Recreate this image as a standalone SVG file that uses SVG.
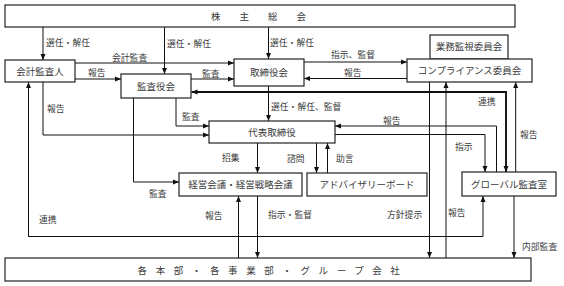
<svg xmlns="http://www.w3.org/2000/svg" width="564" height="286" viewBox="0 0 564 286">
<style>
.box{fill:#fff;stroke:#222;stroke-width:1.2}
.ln{fill:none;stroke:#111;stroke-width:1}
.thk{fill:none;stroke:#111;stroke-width:1.8}
.bt{font-family:"Noto Sans CJK JP","Noto Sans CJK SC",sans-serif;font-size:9.5px;fill:#3a3a3a;text-anchor:middle}
.lb{font-family:"Noto Sans CJK JP","Noto Sans CJK SC",sans-serif;font-size:8.8px;fill:#3a3a3a}
</style>
<defs>
<marker id="ah" markerWidth="6" markerHeight="6" refX="6" refY="3" orient="auto" markerUnits="userSpaceOnUse">
<path d="M0,0.5 L6,3 L0,5.5 z" fill="#111"/>
</marker>
</defs>
<g id="connectors">
<path class="ln" d="M43,27 V60" marker-end="url(#ah)"/>
<path class="ln" d="M164.5,27 V74" marker-end="url(#ah)"/>
<path class="ln" d="M268.5,27 V59" marker-end="url(#ah)"/>
<path class="ln" d="M75,63 H234" marker-end="url(#ah)"/>
<path class="ln" d="M75,79 H121" marker-end="url(#ah)"/>
<path class="ln" d="M191,79 H234" marker-end="url(#ah)"/>
<path class="ln" d="M304,62 H407" marker-end="url(#ah)"/>
<path class="ln" d="M407,78.5 H304" marker-end="url(#ah)"/>
<path class="thk" d="M506,172 V92 H191.5" marker-end="url(#ah)"/>
<path class="ln" d="M506,92 V172" marker-end="url(#ah)"/>
<path class="ln" d="M496.5,172 V126 H335" marker-end="url(#ah)"/>
<path class="ln" d="M335,134.5 H485 V172" marker-end="url(#ah)"/>
<path class="ln" d="M515.7,172 V82" marker-end="url(#ah)"/>
<path class="ln" d="M429.5,82 V258" marker-end="url(#ah)"/>
<path class="ln" d="M446,258 V82" marker-end="url(#ah)"/>
<path class="ln" d="M514,196 V258" marker-end="url(#ah)"/>
<path class="ln" d="M483,236.5 H28.5 V82" marker-end="url(#ah)"/>
<path class="ln" d="M28.5,236.5 H483 V196" marker-end="url(#ah)"/>
<path class="ln" d="M43,82 V135 H209" marker-end="url(#ah)"/>
<path class="ln" d="M176,98 V126 H209" marker-end="url(#ah)"/>
<path class="ln" d="M133.5,98 V182 H179" marker-end="url(#ah)"/>
<path class="ln" d="M268.5,86 V121" marker-end="url(#ah)"/>
<path class="ln" d="M257.5,143 V173" marker-end="url(#ah)"/>
<path class="ln" d="M316.5,143 V173" marker-end="url(#ah)"/>
<path class="ln" d="M327.5,173 V143" marker-end="url(#ah)"/>
<path class="ln" d="M238.5,258 V196" marker-end="url(#ah)"/>
<path class="ln" d="M257.5,196 V258" marker-end="url(#ah)"/>
</g>
<g id="labels">
<text class="lb" x="46" y="45.5">選任・解任</text>
<text class="lb" x="167" y="47">選任・解任</text>
<text class="lb" x="270" y="45.5">選任・解任</text>
<text class="lb" x="112" y="61">会計監査</text>
<text class="lb" x="88" y="75.5">報告</text>
<text class="lb" x="202" y="77">監査</text>
<text class="lb" x="331" y="58">指示、監督</text>
<text class="lb" x="344" y="75.5">報告</text>
<text class="lb" x="478" y="104.5">連携</text>
<text class="lb" x="520" y="138">報告</text>
<text class="lb" x="47" y="112">報告</text>
<text class="lb" x="182" y="120">監査</text>
<text class="lb" x="271" y="109.5">選任・解任、監督</text>
<text class="lb" x="383" y="123.5">報告</text>
<text class="lb" x="455" y="150">指示</text>
<text class="lb" x="222" y="161">招集</text>
<text class="lb" x="287" y="162">諮問</text>
<text class="lb" x="336" y="162">助言</text>
<text class="lb" x="149" y="197">監査</text>
<text class="lb" x="39" y="223">連携</text>
<text class="lb" x="205" y="219">報告</text>
<text class="lb" x="268" y="218">指示・監督</text>
<text class="lb" x="387" y="218">方針提示</text>
<text class="lb" x="448" y="216">報告</text>
<text class="lb" x="522" y="250">内部監査</text>
</g>
<g id="shareholders">
<rect class="box" x="5" y="5" width="510" height="22"/>
<text class="bt" x="268" y="19.5" letter-spacing="19">株主総会</text>
</g>
<g id="auditor">
<rect class="box" x="5" y="60" width="70" height="22"/>
<text class="bt" x="40" y="74.5">会計監査人</text>
</g>
<g id="audit-board">
<rect class="box" x="121" y="74" width="70" height="24"/>
<text class="bt" x="156" y="89.5">監査役会</text>
</g>
<g id="board">
<rect class="box" x="234" y="59" width="70" height="27"/>
<text class="bt" x="269" y="76">取締役会</text>
</g>
<g id="oversight">
<rect class="box" x="430" y="35" width="78" height="24"/>
<text class="bt" x="469" y="50">業務監視委員会</text>
</g>
<g id="compliance">
<rect class="box" x="407" y="59" width="125" height="23"/>
<text class="bt" x="469.5" y="74">コンプライアンス委員会</text>
</g>
<g id="ceo">
<rect class="box" x="209" y="121" width="126" height="22"/>
<text class="bt" x="272" y="135.5">代表取締役</text>
</g>
<g id="management">
<rect class="box" x="179" y="173" width="123" height="23"/>
<text class="bt" x="240.5" y="188">経営会議・経営戦略会議</text>
</g>
<g id="advisory">
<rect class="box" x="307" y="173" width="120" height="23"/>
<text class="bt" x="367" y="188">アドバイザリーボード</text>
</g>
<g id="global-audit">
<rect class="box" x="462" y="172" width="94" height="24"/>
<text class="bt" x="509" y="187.5">グローバル監査室</text>
</g>
<g id="divisions">
<rect class="box" x="5" y="258" width="526" height="23"/>
<text class="bt" x="273" y="273.5" letter-spacing="8.6">各本部・各事業部・グループ会社</text>
</g>
</svg>
